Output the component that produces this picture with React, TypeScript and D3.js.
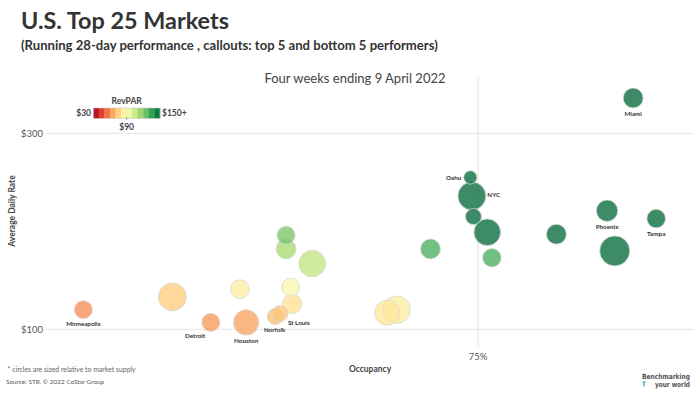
import React, { useRef, useEffect } from "react";
import * as d3 from "d3";

// market callouts ("" = not called out)
const markets = [
  "Miami", "Oahu", "NYC", "", "", "", "", "", "Phoenix", "Tampa", "", "", "",
  "", "", "", "", "", "Minneapolis", "Detroit", "Houston", "Norfolk", "St Louis", "", "",
];
// occupancy, %
const occupancy = [
  85.1, 74.5, 74.6, 74.7, 75.6, 71.9, 75.9, 80.1, 83.4, 86.6, 83.9, 62.5, 62.5,
  64.2, 62.8, 62.9, 59.5, 55.1, 49.3, 57.6, 59.9, 61.8, 62.1, 69.1, 69.7,
];
// average daily rate, $
const adr = [
  336, 255, 236, 215, 199, 182, 173, 197, 221, 213, 180, 196, 182,
  167, 143, 126, 141, 133, 120, 107, 107, 113, 116, 117, 120,
];
// hotel room supply, thousands
const supply = [
  54, 24, 106, 35, 96, 54, 47, 54, 62, 47, 122, 44, 54,
  96, 44, 51, 47, 106, 44, 44, 87, 35, 35, 87, 102,
];

const yTicks = [100, 300];
const xTicks = [75];

// label placement for callouts: [dx, dy, anchor]
const labelPlace: Record<string, [number, number, string]> = {
  Miami: [0, 15.6, "middle"],
  Oahu: [-9, 0, "end"],
  NYC: [15.4, -1, "start"],
  Phoenix: [0, 16, "middle"],
  Tampa: [0, 15, "middle"],
  Minneapolis: [0, 14.3, "middle"],
  Detroit: [-15.7, 13, "middle"],
  Houston: [0, 18.3, "middle"],
  Norfolk: [-0.7, 13.3, "middle"],
  "St Louis": [8, 9, "start"],
};

const W = 700;
const H = 394;
const font = "Lato, 'Open Sans', sans-serif";

const App: React.FC = () => {
  const svgRef = useRef<SVGSVGElement | null>(null);

  useEffect(() => {
    if (!svgRef.current) return;
    const svg = d3.select(svgRef.current);
    svg.selectAll("*").remove();

    const x = d3.scaleLinear().domain([47, 88.8]).range([48, 690]);
    const y = d3.scaleLinear().domain([100, 300]).range([329.3, 133.3]);
    const r = d3.scaleSqrt().domain([0, 130]).range([0, 15.5]);

    const nSteps = 12;
    const stepColor = d3
      .scaleQuantize<string>()
      .domain([30, 150])
      .range(d3.range(nSteps).map((i) => d3.interpolateRdYlGn((i + 0.5) / nSteps)));
    const markColor = d3
      .scaleSequential(d3.interpolateRdYlGn)
      .domain([30, 150])
      .clamp(true);

    // titles
    svg.append("text").attr("x", 21).attr("y", 29).attr("font-family", font)
      .attr("font-size", 23.4).attr("font-weight", 700).attr("fill", "#333")
      .text("U.S. Top 25 Markets");
    svg.append("text").attr("x", 21).attr("y", 49.5).attr("font-family", font)
      .attr("font-size", 13.1).attr("font-weight", 700).attr("fill", "#333")
      .text("(Running 28-day performance , callouts: top 5 and bottom 5 performers)");
    svg.append("text").attr("x", 355).attr("y", 82.5).attr("font-family", font)
      .attr("font-size", 13).attr("fill", "#444").attr("text-anchor", "middle")
      .text("Four weeks ending 9 April 2022");

    // gridlines
    const g = svg.append("g");
    g.selectAll(".hgrid").data(yTicks).enter().append("line")
      .attr("x1", 46).attr("x2", 694)
      .attr("y1", (d) => y(d)).attr("y2", (d) => y(d))
      .attr("stroke", "#e4e4e4").attr("stroke-width", 1);
    g.selectAll(".vgrid").data(xTicks).enter().append("line")
      .attr("x1", (d) => x(d)).attr("x2", (d) => x(d))
      .attr("y1", 77).attr("y2", 347)
      .attr("stroke", "#e4e4e4").attr("stroke-width", 1);

    // axis tick labels
    g.selectAll(".ylab").data(yTicks).enter().append("text")
      .attr("x", 43).attr("y", (d) => y(d)).attr("dy", "0.35em")
      .attr("text-anchor", "end").attr("font-family", font).attr("font-size", 9.5)
      .attr("fill", "#555").text((d) => d3.format("$,")(d));
    g.selectAll(".xlab").data(xTicks).enter().append("text")
      .attr("x", (d) => x(d)).attr("y", 360).attr("text-anchor", "middle")
      .attr("font-family", font).attr("font-size", 9.5).attr("fill", "#555")
      .text((d) => d + "%");

    svg.append("text").attr("transform", "translate(15,211) rotate(-90)")
      .attr("text-anchor", "middle").attr("font-family", font).attr("font-size", 8.5)
      .attr("font-weight", 700).attr("fill", "#444").text("Average Daily Rate");
    svg.append("text").attr("x", 370).attr("y", 371.5).attr("text-anchor", "middle")
      .attr("font-family", font).attr("font-size", 8.5).attr("font-weight", 700)
      .attr("fill", "#444").text("Occupancy");

    // bubbles
    const data = occupancy.map((o, i) => ({
      name: markets[i],
      occ: o,
      adr: adr[i],
      supply: supply[i],
      revpar: (o / 100) * adr[i],
    }));
    const sorted = [...data].sort((a, b) => b.supply - a.supply);

    svg.append("g").selectAll("circle").data(sorted).enter().append("circle")
      .attr("cx", (d) => x(d.occ)).attr("cy", (d) => y(d.adr))
      .attr("r", (d) => r(d.supply))
      .attr("fill", (d) => markColor(d.revpar)).attr("fill-opacity", 0.76)
      .attr("stroke", "#d8d8d8").attr("stroke-width", 0.8);

    svg.append("g").selectAll("text").data(data.filter((d) => d.name)).enter()
      .append("text")
      .attr("x", (d) => x(d.occ) + labelPlace[d.name][0])
      .attr("y", (d) => y(d.adr) + labelPlace[d.name][1])
      .attr("dy", "0.35em")
      .attr("text-anchor", (d) => labelPlace[d.name][2])
      .attr("font-family", font).attr("font-size", 6.3).attr("font-weight", 700)
      .attr("fill", "#333").text((d) => d.name);

    // legend
    const lg = svg.append("g");
    const lx = d3.scaleLinear().domain([30, 150]).range([93.3, 160]);
    const steps = d3.range(nSteps).map((i) => 30 + (i * 120) / nSteps);
    lg.append("text").attr("x", 126.7).attr("y", 101).attr("dy", "0.35em")
      .attr("text-anchor", "middle").attr("font-family", font).attr("font-size", 8.5)
      .attr("font-weight", 700).attr("fill", "#444").text("RevPAR");
    lg.selectAll("rect").data(steps).enter().append("rect")
      .attr("x", (d) => lx(d)).attr("width", lx(40) - lx(30) + 0.3)
      .attr("y", 108).attr("height", 10.5)
      .attr("fill", (d) => stepColor(d + 5));
    lg.append("rect").attr("x", 93.3).attr("y", 108).attr("width", 66.7)
      .attr("height", 10.5).attr("fill", "none").attr("stroke", "#ccc")
      .attr("stroke-width", 0.6);
    lg.append("line").attr("x1", lx(90)).attr("x2", lx(90)).attr("y1", 117)
      .attr("y2", 120).attr("stroke", "#666").attr("stroke-width", 0.6);
    lg.append("text").attr("x", 91).attr("y", 113.3).attr("dy", "0.35em")
      .attr("text-anchor", "end").attr("font-family", font).attr("font-size", 8.5)
      .attr("font-weight", 700).attr("fill", "#444").text("$30");
    lg.append("text").attr("x", 162).attr("y", 113.3).attr("dy", "0.35em")
      .attr("font-family", font).attr("font-size", 8.5).attr("font-weight", 700)
      .attr("fill", "#444").text("$150+");
    lg.append("text").attr("x", lx(90)).attr("y", 127.5).attr("dy", "0.35em")
      .attr("text-anchor", "middle").attr("font-family", font).attr("font-size", 8.5)
      .attr("font-weight", 700).attr("fill", "#444").text("$90");

    // footnotes
    svg.append("text").attr("x", 7.5).attr("y", 371.5).attr("font-family", font)
      .attr("font-size", 6.9).attr("fill", "#666")
      .text("* circles are sized relative to market supply");
    svg.append("text").attr("x", 6).attr("y", 383.5).attr("font-family", font)
      .attr("font-size", 6.4).attr("fill", "#555")
      .text("Source: STR. \u00a9 2022 CoStar Group");

    // logo
    const logo = svg.append("g").attr("font-family", "'Liberation Sans Narrow', 'DejaVu Sans Condensed', sans-serif")
      .attr("font-weight", 700).attr("fill", "#555").attr("font-size", 7.2);
    logo.append("text").attr("x", 642).attr("y", 379)
      .attr("textLength", 48).attr("lengthAdjust", "spacingAndGlyphs").text("Benchmarking");
    logo.append("text").attr("x", 655).attr("y", 386.5)
      .attr("textLength", 35).attr("lengthAdjust", "spacingAndGlyphs").text("your world");
    logo.append("path").attr("d", "M642.5,382 h3 M644,382 v4.5")
      .attr("stroke", "#1aa59a").attr("stroke-width", 1.1).attr("fill", "none");
  }, []);

  return (
    <div style={{ position: "absolute", left: 0, top: 0, width: W, height: H, background: "#fff" }}>
      <svg ref={svgRef} width={W} height={H}></svg>
    </div>
  );
};

export default App;
